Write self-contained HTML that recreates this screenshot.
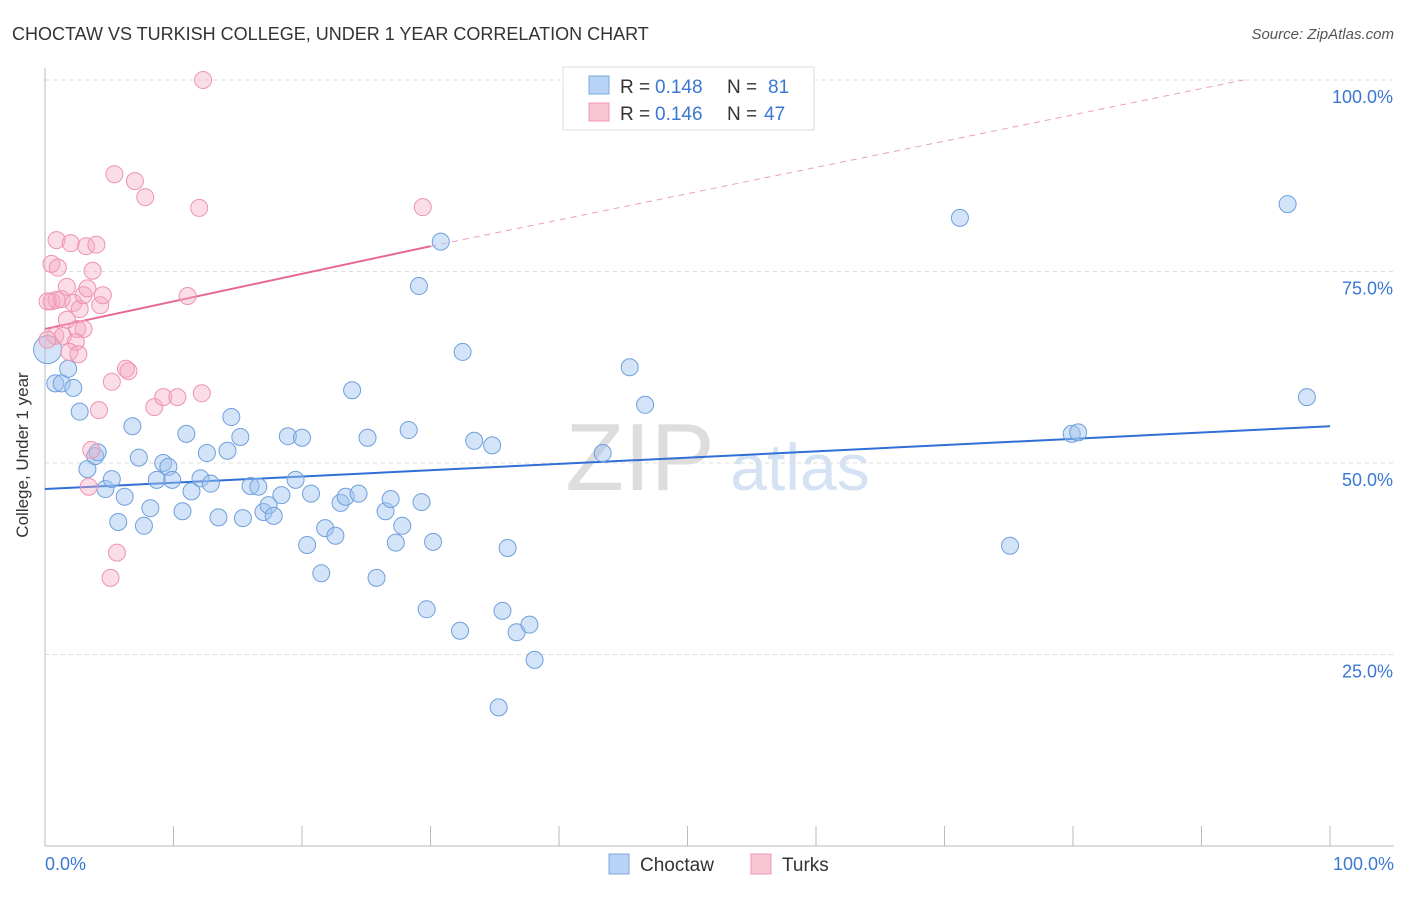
<!DOCTYPE html>
<html><head><meta charset="utf-8"><style>
body{margin:0;background:#fff;font-family:"Liberation Sans",sans-serif;}
svg text{font-family:"Liberation Sans",sans-serif;}
</style></head><body>
<svg id="chart" width="1406" height="892" xmlns="http://www.w3.org/2000/svg">
<text x="12" y="40" font-size="18" fill="#333">CHOCTAW VS TURKISH COLLEGE, UNDER 1 YEAR CORRELATION CHART</text>
<text x="1394" y="39" font-size="15" fill="#555" font-style="italic" text-anchor="end">Source: ZipAtlas.com</text>
<text x="640" y="490" font-size="96" fill="#ddd" font-family="Liberation Serif" text-anchor="middle">ZIP</text>
<text x="800" y="490" font-size="66" fill="#d5e2f3" text-anchor="middle">atlas</text>
<g id="grid"></g>
<g id="axes"></g>
<g id="trends"></g>
<g id="pts"></g>
<text x="28" y="455" font-size="17" fill="#333" text-anchor="middle" transform="rotate(-90 28 455)">College, Under 1 year</text>
<g>
<rect x="563" y="67" width="251" height="63" fill="#fff" stroke="#ddd"/>
<rect x="589" y="76" width="20" height="18" fill="#b8d3f5" stroke="#7aa8e0"/>
<rect x="589" y="103" width="20" height="18" fill="#f9c4d4" stroke="#ee9ab5"/>
<g font-size="19">
<text x="620" y="93" fill="#333">R = </text><text x="655" y="93" fill="#3a78d4">0.148</text>
<text x="727" y="93" fill="#333">N = </text><text x="768" y="93" fill="#3a78d4">81</text></g>
<g font-size="19">
<text x="620" y="120" fill="#333">R = </text><text x="655" y="120" fill="#3a78d4">0.146</text>
<text x="727" y="120" fill="#333">N = </text><text x="764" y="120" fill="#3a78d4">47</text></g>
</g>
<g>
<rect x="609" y="854" width="20" height="20" fill="#b8d3f5" stroke="#7aa8e0"/>
<text x="640" y="871" font-size="19" fill="#333">Choctaw</text>
<rect x="751" y="854" width="20" height="20" fill="#f9c4d4" stroke="#ee9ab5"/>
<text x="782" y="871" font-size="19" fill="#333">Turks</text>
</g>
</svg>
<script>
const blueX=[0.2,0.8,1.3,1.8,2.2,2.7,3.3,3.9,4.1,4.7,5.2,5.7,6.2,6.8,7.3,7.7,8.2,8.7,9.2,9.6,9.9,10.7,11.0,11.4,12.1,12.6,12.9,13.5,14.2,14.5,15.2,15.4,16.0,16.6,17.0,17.4,17.8,18.4,18.9,19.5,20.0,20.4,20.7,21.5,21.8,22.6,23.0,23.4,23.9,24.4,25.1,25.8,26.5,26.9,27.3,27.8,28.3,29.1,29.3,29.7,30.2,30.8,32.3,32.5,33.4,34.8,35.6,35.3,36.0,36.7,37.7,38.1,43.4,45.5,46.7,71.2,75.1,79.9,80.4,96.7,98.2];
const blueY=[64.8,60.4,60.4,62.3,59.8,56.7,49.2,50.9,51.4,46.6,47.9,42.3,45.6,54.8,50.7,41.8,44.1,47.8,50.0,49.5,47.8,43.7,53.8,46.3,48.0,51.3,47.3,42.9,51.6,56.0,53.4,42.8,47.0,46.9,43.6,44.5,43.1,45.8,53.5,47.8,53.3,39.3,46.0,35.6,41.5,40.5,44.8,45.6,59.5,46.0,53.3,35.0,43.7,45.3,39.6,41.8,54.3,73.1,44.9,30.9,39.7,78.9,28.1,64.5,52.9,52.3,30.7,18.1,38.9,27.9,28.9,24.3,51.3,62.5,57.6,82.0,39.2,53.8,54.0,83.8,58.6];
const pinkX=[12.3,5.4,7.0,7.8,12.0,29.4,0.9,2.0,3.2,4.0,0.5,1.0,3.7,0.5,0.9,1.3,1.7,2.2,2.7,3.0,3.3,4.3,4.5,1.7,0.8,1.4,2.5,3.0,2.4,1.9,2.6,11.1,6.3,6.5,5.2,4.2,8.5,9.2,10.3,12.2,3.6,3.4,5.6,5.1,0.2,0.2];
const pinkY=[100.0,87.7,86.8,84.7,83.3,83.4,79.1,78.7,78.3,78.5,76.0,75.5,75.1,71.1,71.3,71.4,73.0,70.9,70.1,71.9,72.8,70.6,71.9,68.7,66.6,66.6,67.5,67.5,65.8,64.5,64.2,71.8,62.3,62.0,60.6,56.9,57.3,58.6,58.6,59.1,51.7,46.9,38.3,35.0,66.1,71.1];
const blueTrend=[46.6,54.8];
const pinkTrend=[67.5,78.3];
const pinkExtSlope=0.343;
const yTicks=[25,50,75,100];
const yTickLabels=["25.0%","50.0%","75.0%","100.0%"];
const NS="http://www.w3.org/2000/svg";
const xs=v=>45+v*12.85, ys=v=>846-v*7.66;
function mk(tag,attrs,parent){const e=document.createElementNS(NS,tag);for(const k in attrs)e.setAttribute(k,attrs[k]);document.getElementById(parent).appendChild(e);return e;}
yTicks.forEach((t,i)=>{
 const l=mk('line',{x1:45,x2:1394,y1:ys(t),y2:ys(t),stroke:'#ddd','stroke-dasharray':'4,4'},'grid');
 
 
 const tx=mk('text',{x:1393,y:ys(t)+23,'font-size':18,fill:'#3a78d4','text-anchor':'end'},'grid');
 tx.textContent=yTickLabels[i];
 
 
});
mk('line',{x1:45,x2:45,y1:68,y2:846,stroke:'#bbb'},'axes');
mk('line',{x1:45,x2:1394,y1:846,y2:846,stroke:'#bbb'},'axes');
for(let i=0;i<=10;i++){mk('line',{x1:xs(i*10),x2:xs(i*10),y1:826,y2:846,stroke:'#bbb'},'axes');}
let a=mk('text',{x:45,y:870,'font-size':18,fill:'#3a78d4'},'axes');a.textContent='0.0%';


let b=mk('text',{x:1394,y:870,'font-size':18,fill:'#3a78d4','text-anchor':'end'},'axes');b.textContent='100.0%';


let bt=mk('line',{x1:xs(0),y1:ys(blueTrend[0]),x2:xs(100),y2:ys(blueTrend[1]),stroke:'#2f6fd6','stroke-width':2},'trends');


let pt=mk('line',{x1:xs(0),y1:ys(pinkTrend[0]),x2:xs(30),y2:ys(pinkTrend[1]),stroke:'#e8698f','stroke-width':2},'trends');


const xe=30+(100-pinkTrend[1])/pinkExtSlope;
let pd=mk('line',{x1:xs(30),y1:ys(pinkTrend[1]),x2:xs(xe),y2:ys(100),stroke:'#eaa0b8','stroke-width':1,'stroke-dasharray':'6,5'},'trends');


blueX.forEach((x,i)=>{
 const c=mk('circle',{cx:xs(x),cy:ys(blueY[i]),r:i===0?14:8.5,fill:'rgba(160,196,240,0.45)',stroke:'#6f9fdc','stroke-width':1},'pts');
 
 
});
pinkX.forEach((x,i)=>{
 const c=mk('circle',{cx:xs(x),cy:ys(pinkY[i]),r:8.5,fill:'rgba(245,170,195,0.4)',stroke:'#ee93b1','stroke-width':1},'pts');
 
 
});
</script>
</body></html>
